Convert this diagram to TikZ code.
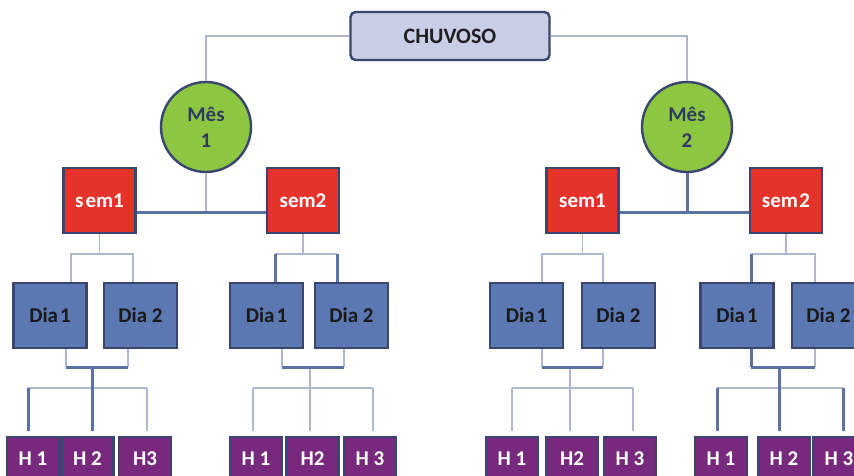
\documentclass[tikz,border=0pt]{standalone}
\usepackage{fontspec}
\setmainfont{Carlito}
\usetikzlibrary{calc}
\definecolor{navy}{HTML}{3A4670}
\definecolor{navytxt}{HTML}{2E3C62}
\definecolor{semred}{HTML}{E5322A}
\definecolor{diablue}{HTML}{5B78B3}
\definecolor{hpurple}{HTML}{77297D}
\definecolor{mgreen}{HTML}{8DC641}
\definecolor{chfill}{HTML}{C8CEE6}
\definecolor{thincol}{HTML}{AEB8D4}
\definecolor{thickcol}{HTML}{5A72A8}
\begin{document}
\begin{tikzpicture}[x=1pt,y=-1pt,
  lbl/.style={font=\bfseries\fontsize{21}{23}\selectfont},
  box/.style={lbl, draw=navy, line width=2.4pt, minimum width=73pt, minimum height=65pt, inner sep=0pt},
  sembox/.style={box, fill=semred, text=white, minimum width=72pt},
  diabox/.style={box, fill=diablue, text=black!90},
  hbox/.style={box, fill=hpurple, text=white, minimum width=52pt, minimum height=44pt},
  mes/.style={circle, draw=navy, fill=mgreen, line width=2.4pt, minimum size=90pt, inner sep=0pt, align=center, text=navytxt, font=\bfseries\fontsize{21}{26}\selectfont},
  chbox/.style={draw=navy, fill=chfill, line width=2.4pt, rounded corners=5pt, minimum width=199pt, minimum height=48pt, text=black!88, font=\bfseries\fontsize{22}{24}\selectfont},
  thinl/.style={draw=thincol, line width=1.3pt},
  thickl/.style={draw=thickcol, line width=3pt},
  hend/.style={shorten >=5pt}
]
\useasboundingbox (0,0) rectangle (854,476);
\clip (0,0) rectangle (854,476);
\fill[white] (0,0) rectangle (854,476);

% ---------- coordinates for junctions ----------
\coordinate (j1) at (206,212);
\coordinate (j2) at (687,212);
\coordinate (t11) at (71,254);  \coordinate (t12) at (133,254);
\coordinate (t21) at (275,254); \coordinate (t22) at (337,254);
\coordinate (t31) at (542,254); \coordinate (t32) at (603,254);
\coordinate (t41) at (751,254); \coordinate (t42) at (815,254);
\coordinate (u11) at (66,367);  \coordinate (u12) at (128,367); \coordinate (c1) at (92,367);
\coordinate (u21) at (282,367); \coordinate (u22) at (344,367); \coordinate (c2) at (310,367);
\coordinate (u31) at (542,367); \coordinate (u32) at (603,367); \coordinate (c3) at (570,367);
\coordinate (u41) at (751,367); \coordinate (u42) at (815,367); \coordinate (c4) at (779,367);
\coordinate (v11) at (28,388);  \coordinate (v13) at (147,388);
\coordinate (v21) at (253,388); \coordinate (v23) at (373,388);
\coordinate (v31) at (512,388); \coordinate (v33) at (633,388);
\coordinate (v41) at (717,388); \coordinate (v43) at (843,388);

% ---------- nodes ----------
\node[chbox] (ch) at (450,36) {CHUVOSO};
\node[mes] (m1) at (206,127) {Mês\\1};
\node[mes] (m2) at (687,127) {Mês\\2};

\node[sembox] (s1L) at (99.5,200.5) {s\kern2pt em1};
\node[sembox] (s2L) at (303,200.5) {sem2};
\node[sembox] (s1R) at (582.5,200.5) {sem1};
\node[sembox] (s2R) at (786,200.5) {sem\kern1.5pt 2};

\node[diabox] (d11) at (50,315.5) {Dia\kern2pt 1};
\node[diabox] (d12) at (140.5,315.5) {Dia 2};
\node[diabox] (d21) at (266.5,315.5) {Dia\kern2pt 1};
\node[diabox] (d22) at (351.5,315.5) {Dia 2};
\node[diabox] (d31) at (526.5,315.5) {Dia\kern2pt 1};
\node[diabox] (d32) at (618.5,315.5) {Dia 2};
\node[diabox] (d41) at (737,315.5) {Dia\kern2pt 1};
\node[diabox] (d42) at (828.5,315.5) {Dia 2};

\node[hbox] (h11) at (33,459) {H 1};
\node[hbox] (h12) at (87.5,459) {H 2};
\node[hbox] (h13) at (145,459) {H3};
\node[hbox] (h21) at (256,459) {H 1};
\node[hbox] (h22) at (312.5,459) {H2};
\node[hbox] (h23) at (370,459) {H 3};
\node[hbox] (h31) at (512,459) {H 1};
\node[hbox] (h32) at (572,459) {H2};
\node[hbox] (h33) at (630,459) {H 3};
\node[hbox] (h41) at (721,459) {H 1};
\node[hbox] (h42) at (784,459) {H 2};
\node[hbox] (h43) at (839,459) {H 3};

% ---------- connectors: top ----------
\draw[thinl] (ch.west) -| (m1.north);
\draw[thinl] (ch.east) -| (m2.north);
\draw[thinl] (m1.south) -- (j1);
\draw[thickl] (s1L.east |- j1) -- (s2L.west |- j1);
\draw[thickl] (m2.south) -- (j2);
\draw[thickl] (s1R.east |- j2) -- (s2R.west |- j2);

% ---------- sem -> Dia ----------
\draw[thinl] (s1L.south) -- (s1L.south |- t11);
\draw[thinl] (t11 |- d11.north) -- (t11) -- (t12) -- (t12 |- d12.north);

\draw[thinl] (s2L.south) -- (s2L.south |- t21);
\draw[thinl] (t21) -- (t22);
\draw[thickl] (t21) -- (t21 |- d21.north);
\draw[thickl] (t22) -- (t22 |- d22.north);

\draw[thinl] (s1R.south) -- (s1R.south |- t31);
\draw[thinl] (t31 |- d31.north) -- (t31) -- (t32) -- (t32 |- d32.north);

\draw[thinl] (s2R.south) -- (s2R.south |- t41);
\draw[thinl] (t41) -- (t42) -- (t42 |- d42.north);
\draw[thickl] (t41) -- (t41 |- d41.north);

% ---------- Dia -> H : group 1 ----------
\draw[thinl] (u11 |- d11.south) -- (u11);
\draw[thinl] (u12 |- d12.south) -- (u12);
\draw[thinl] (v11) -- (v13);
\draw[thinl,hend] (v13) -- (v13 |- h13.north);
\draw[thickl,hend] (v11) -- (v11 |- h11.north);
\draw[thickl,hend] (c1) -- (c1 |- h12.north);
\draw[thickl] (u11) -- (u12);

% ---------- group 2 ----------
\draw[thinl] (u21 |- d21.south) -- (u21);
\draw[thinl] (u22 |- d22.south) -- (u22);
\draw[thinl] (v21) -- (v23);
\draw[thinl,hend] (v21) -- (v21 |- h21.north);
\draw[thinl,hend] (v23) -- (v23 |- h23.north);
\draw[thinl,hend] (c2) -- (c2 |- h22.north);
\draw[thickl] (u21) -- (u22);

% ---------- group 3 ----------
\draw[thinl] (u31 |- d31.south) -- (u31);
\draw[thinl] (u32 |- d32.south) -- (u32);
\draw[thinl] (v31) -- (v33);
\draw[thinl,hend] (v31) -- (v31 |- h31.north);
\draw[thinl,hend] (v33) -- (v33 |- h33.north);
\draw[thinl,hend] (c3) -- (c3 |- h32.north);
\draw[thickl] (u31) -- (u32);

% ---------- group 4 ----------
\draw[thinl] (u42 |- d42.south) -- (u42);
\draw[thinl] (v41) -- (v43);
\draw[thickl] (u41 |- d41.south) -- (u41);
\draw[thickl,hend] (v41) -- (v41 |- h41.north);
\draw[thickl,hend] (v43) -- (v43 |- h43.north);
\draw[thickl,hend] (c4) -- (c4 |- h42.north);
\draw[thickl] (u41) -- (u42);
\end{tikzpicture}
\end{document}
